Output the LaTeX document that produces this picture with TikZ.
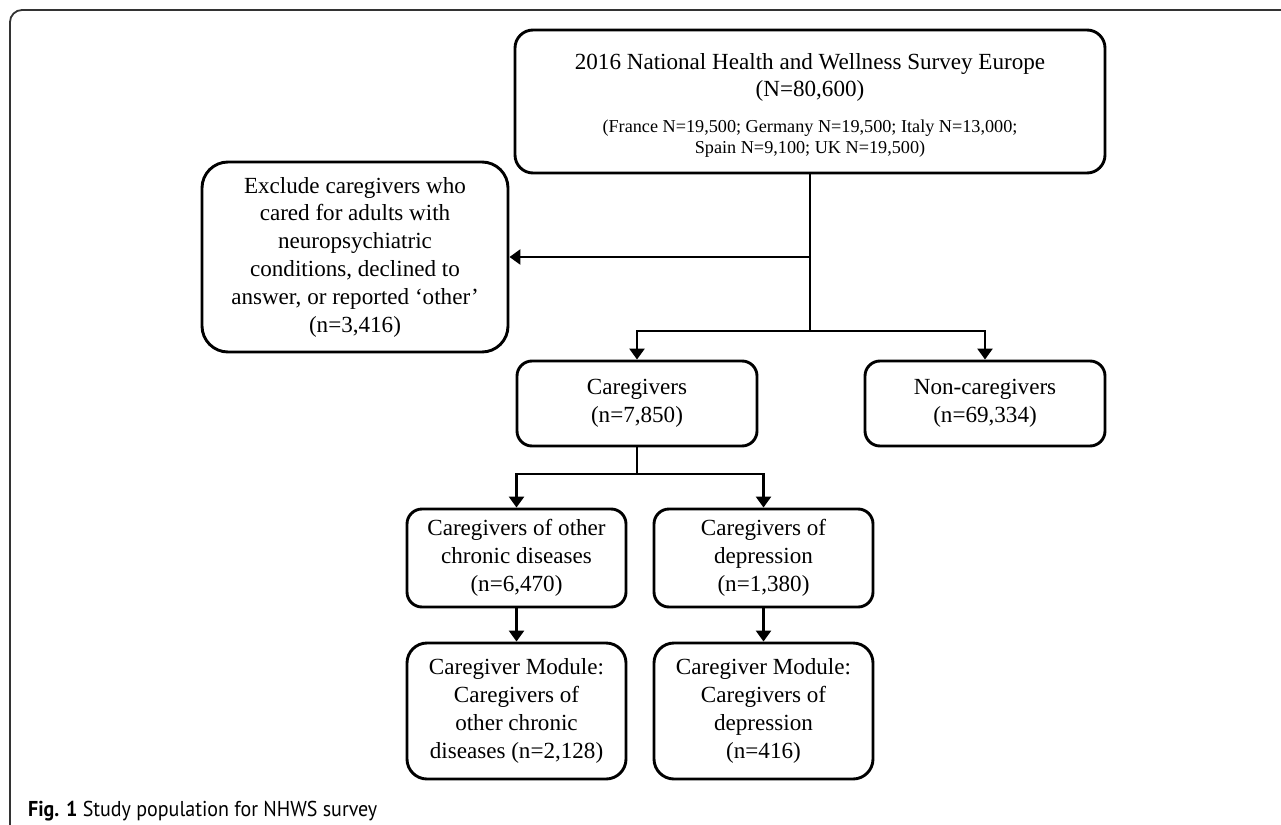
\documentclass[tikz,border=0pt]{standalone}
\usepackage{fontspec}
\setmainfont{Liberation Serif}
\newfontfamily\capfont[FakeStretch=0.93]{PT Sans}
\usetikzlibrary{arrows.meta}
\begin{document}
\begin{tikzpicture}[x=1pt,y=-1pt,
  box/.style={draw, line width=2.9pt, rounded corners=15pt, align=center, inner sep=0pt,
    font=\fontsize{23.1}{27.8}\selectfont},
  bigtxt/.style={anchor=base, inner sep=0pt, font=\fontsize{23.1}{27.8}\selectfont},
  smalltxt/.style={anchor=base, inner sep=0pt, font=\fontsize{18.2}{21}\selectfont},
  conn/.style={line width=2.6pt},
  arr/.style={conn, -{Triangle[width=15pt,length=11pt]}},
]
\useasboundingbox (0,0) rectangle (1281,824);
\draw[line width=1.8pt, black!80, rounded corners=12pt] (10,830) -- (10,10) -- (1290,10);

\node[box, rounded corners=18pt, minimum width=590pt, minimum height=143pt] (top) at (810,101.5) {};
\node[bigtxt] (t1) at (810,70) {2016 National Health and Wellness Survey Europe};
\node[bigtxt] (t2) at (810,97) {(N=80,600)};
\node[smalltxt] (t3) at (810,132) {(France N=19,500; Germany N=19,500; Italy N=13,000;};
\node[smalltxt] (t4) at (810,153) {Spain N=9,100; UK N=19,500)};

\node[box, rounded corners=26pt, minimum width=306pt, minimum height=190pt] (ex) at (355,257)
  {Exclude caregivers who\\cared for adults with\\neuropsychiatric\\conditions, declined to\\answer, or reported ‘other’\\(n=3,416)};

\node[box, minimum width=240pt, minimum height=85pt] (cg) at (637,403.5) {Caregivers\\(n=7,850)};
\node[box, minimum width=240pt, minimum height=85pt] (ncg) at (985,403.5) {Non-caregivers\\(n=69,334)};

\node[box, minimum width=219pt, minimum height=98pt] (chr) at (516.5,558) {Caregivers of other\\chronic diseases\\(n=6,470)};
\node[box, minimum width=219pt, minimum height=98pt] (dep) at (763.5,558) {Caregivers of\\depression\\(n=1,380)};

\node[box, rounded corners=20pt, minimum width=219pt, minimum height=136pt] (mchr) at (516.5,711) {Caregiver Module:\\Caregivers of\\other chronic\\diseases (n=2,128)};
\node[box, rounded corners=20pt, minimum width=219pt, minimum height=136pt] (mdep) at (763.5,711) {Caregiver Module:\\Caregivers of\\depression\\(n=416)};

\coordinate (b1) at (810,331);
\coordinate (b2) at (637,474);
\draw[conn] (top.south) -- (b1);
\draw[arr] (top.south |- ex.east) -- (ex.east);
\draw[arr] (b1) -| (cg.north);
\draw[arr] (b1) -| (ncg.north);
\draw[conn] (cg.south) -- (b2);
\draw[arr] (b2) -| (chr.north);
\draw[arr] (b2) -| (dep.north);
\draw[arr] (chr.south) -- (mchr.north);
\draw[arr] (dep.south) -- (mdep.north);

\node[anchor=base west, inner sep=0pt, font=\capfont\fontsize{21.5}{25}\selectfont] (cap) at (28,816)
  {\textbf{Fig. 1} Study population for NHWS survey};
\end{tikzpicture}
\end{document}
